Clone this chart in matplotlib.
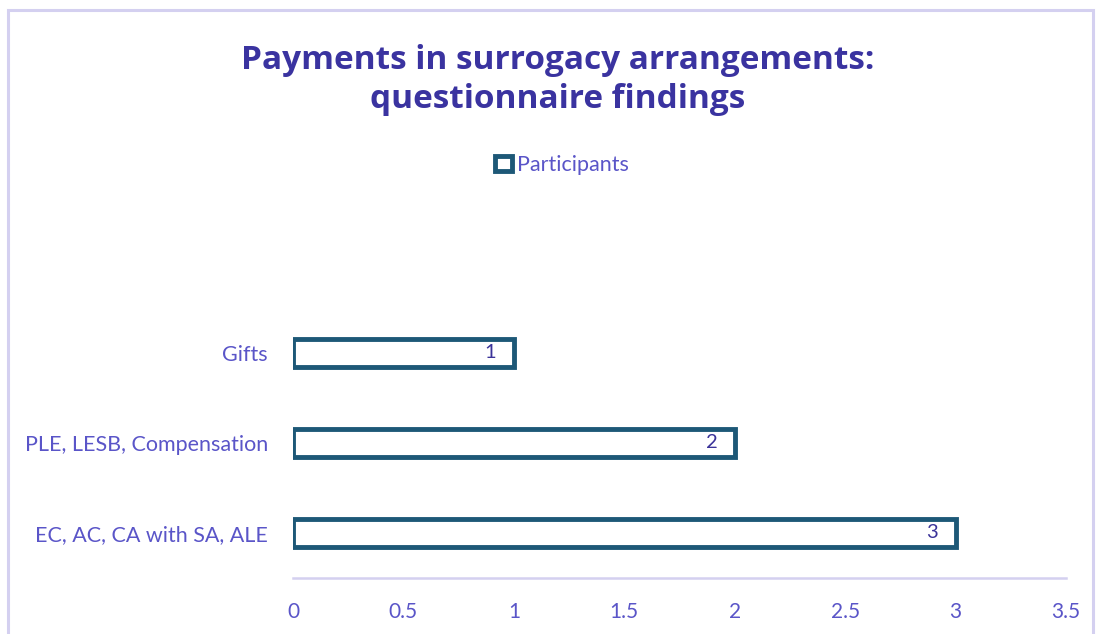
import matplotlib.pyplot as plt
from matplotlib.patches import Rectangle

# Data
categories = ["EC, AC, CA with SA, ALE", "PLE, LESB, Compensation", "Gifts"]
participants = [3, 2, 1]
x_ticks = [0, 0.5, 1, 1.5, 2, 2.5, 3, 3.5]

bar_edge = "#1D5877"
label_col = "#5A55C8"
title_col = "#3A33A0"
value_col = "#3B3399"
line_col = "#D4D0F0"

plt.rcParams["font.family"] = ["Lato", "DejaVu Sans"]

fig = plt.figure(figsize=(10.98, 6.34), dpi=100)
W, H = 1098, 634

# outer border
fig.patches.append(Rectangle((8 / W, -0.1), (1093 - 8) / W, 1.1 - 10 / H,
                             transform=fig.transFigure, fill=False,
                             edgecolor=line_col, linewidth=2.2))

ax = fig.add_axes([293 / W, 1 - 578 / H, (1066 - 293) / W, (578 - 308) / H])
ypos = list(range(len(categories)))
ax.barh(ypos, participants, height=0.31, color="white",
        edgecolor=bar_edge, linewidth=3.5)
for y, v in zip(ypos, participants):
    ax.text(v - 0.105, y, str(v), ha="center", va="center",
            color=value_col, fontsize=14.5)

ax.set_xlim(0, 3.5)
ax.set_ylim(-0.5, 2.5)
ax.set_xticks(x_ticks)
ax.set_xticklabels([f"{t:g}" for t in x_ticks])
ax.set_yticks(ypos)
ax.set_yticklabels(categories)
ax.tick_params(axis="both", length=0, colors=label_col, labelsize=15)
ax.tick_params(axis="y", labelsize=15.5, pad=18)
ax.tick_params(axis="x", pad=17)
for s in ["top", "right", "left"]:
    ax.spines[s].set_visible(False)
ax.spines["bottom"].set_color(line_col)
ax.spines["bottom"].set_linewidth(1.8)

fig.text(0.508, 1 - 80 / H, "Payments in surrogacy arrangements:\nquestionnaire findings",
         ha="center", va="center", fontsize=24, fontweight="bold",
         family=["Open Sans", "DejaVu Sans"], color=title_col, linespacing=1.22)

leg_handle = Rectangle((0, 0), 1, 1, facecolor="white", edgecolor=bar_edge, linewidth=3.5)
fig.legend([leg_handle], ["Participants"], loc="center",
           bbox_to_anchor=(0.512, 1 - 165 / H), frameon=False,
           handlelength=0.75, handleheight=0.75, handletextpad=0.25,
           labelcolor=label_col, fontsize=15.5)

fig.savefig("out.png", dpi=100)
